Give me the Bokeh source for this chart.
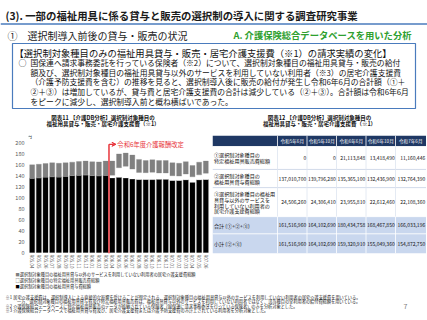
from bokeh.plotting import figure
from bokeh.layouts import column, row
from bokeh.models import Range1d, FixedTicker, Label, Arrow, VeeHead, ColumnDataSource
from bokeh.core.properties import value
from bokeh.embed import file_html
from bokeh.resources import INLINE

FONT = "Noto Sans CJK JP"

# ---------------- data ----------------
months = ["R05.04", "R05.05", "R05.06", "R05.07", "R05.08", "R05.09", "R05.10", "R05.11",
          "R05.12", "R06.01", "R06.02", "R06.03", "R06.04", "R06.05", "R06.06", "R06.07",
          "R06.08", "R06.09", "R06.10", "R06.11", "R06.12", "R07.01", "R07.02", "R07.03",
          "R07.04", "R07.05", "R07.06"]
# 百万円
rental = [135.0, 135.8, 137.0, 137.8, 137.2, 138.5, 139.8, 140.5, 141.0, 139.8, 139.5, 140.2,
          135.5, 136.5, 135.4, 133.5, 132.5, 132.5, 132.4, 133.0, 133.0, 131.0, 130.8, 132.0,
          127.5, 132.0, 132.8]
sales = [0.0, 0.0, 0.0, 0.0, 0.0, 0.0, 0.0, 0.0, 0.0, 0.0, 0.0, 0.0,
         5.0, 17.5, 21.1, 18.0, 13.0, 12.5, 13.4, 11.5, 11.5, 8.5, 8.0, 10.5,
         10.0, 9.0, 11.2]
care = [24.2, 24.5, 24.5, 25.2, 24.8, 24.5, 24.3, 24.7, 25.0, 25.0, 25.0, 25.8,
        25.5, 25.0, 24.0, 25.5, 23.5, 22.0, 22.6, 22.5, 22.5, 23.5, 23.2, 22.5,
        20.5, 23.0, 22.1]
y_ticks = [0, 20, 40, 60, 80, 100, 120, 140, 160, 180, 200]

table_cols = ["令和5年6月", "令和5年10月", "令和6年6月", "令和6年10月", "令和7年6月"]
t_sales = [0, 0, 21113848, 13418490, 11160446]
t_rental = [137010700, 139796280, 135365100, 132436900, 132764390]
t_care = [24506260, 24306410, 23955810, 22612460, 22108360]
t_total = [161516960, 164102690, 180434758, 168467850, 166033196]
t_sub = [161516960, 164102690, 159320910, 155049360, 154872750]
row_labels = [
    ["①選択制対象種目の", "特定福祉用具販売費総額"],
    ["②選択制対象種目の", "福祉用具貸与費総額"],
    ["③選択制対象種目の福祉用", "具貸与以外のサービスを", "利用していない利用者の", "居宅介護支援費総額"],
    ["合計 (①+②+③)"],
    ["小計 (②+③)"],
]

RED = "#e8363c"


def canvas(w, h, x0, x1, ytop, ybot, bt=0, bb=0):
    p = figure(width=w, height=h, x_range=Range1d(x0, x1), y_range=Range1d(ybot, ytop),
               x_axis_type=None, y_axis_type=None, output_backend="svg",
               toolbar_location=None, min_border=0, min_border_top=bt, min_border_bottom=bb,
               outline_line_color=None)
    p.background_fill_color = "white"
    p.border_fill_color = "white"
    return p


def txt(p, x, y, s, size, color="#111111", align="left", bold=False):
    p.text(x=[x], y=[y], text=[s], text_font=value(FONT), text_font_size=f"{size}px",
           text_color=color, text_align=align, text_baseline="middle",
           text_font_style="bold" if bold else "normal")


# ---------------- header ----------------
hdr = canvas(427, 128, 0, 427, 0, 128)
txt(hdr, 5, 14.5, "(3). 一部の福祉用具に係る貸与と販売の選択制の導入に関する調査研究事業", 10.4, "#1a1a1a", bold=True)
hdr.segment(x0=[0], y0=[23.5], x1=[427], y1=[23.5], line_color="#4a7bbd", line_width=1.5)
txt(hdr, 7, 34.5, "①　選択制導入前後の貸与・販売の状況", 10, "#1a1a1a")
txt(hdr, 233, 34, "A. 介護保険総合データベースを用いた分析", 9.3, "#2ea02e", bold=True)
hdr.quad(left=[12], right=[415], top=[43], bottom=[108], fill_color="white",
         line_color="#4a7bbd", line_width=1.2)
txt(hdr, 14, 52.5, "【選択制対象種目のみの福祉用具貸与・販売・居宅介護支援費（※1）の請求実績の変化】", 9.3)
txt(hdr, 18, 62, "○", 8)
para = [
    "国保連へ請求事務委託を行っている保険者（※2）について、選択制対象種目の福祉用具貸与・販売の給付",
    "額及び、選択制対象種目の福祉用具貸与以外のサービスを利用していない利用者（※3）の居宅介護支援費",
    "（介護予防支援費を含む）の推移を見ると、選択制導入後に販売の給付が発生し令和6年6月の合計額（①＋",
    "②＋③）は増加しているが、貸与費と居宅介護支援費の合計は減少している（②＋③）。合計額は令和6年6月",
    "をピークに減少し、選択制導入前と概ね横ばいであった。",
]
for i, s in enumerate(para):
    txt(hdr, 30, 62 + i * 9.7, s, 7.8)
txt(hdr, 102.5, 117, "図表11 【介護DB分析】選択制対象種目の", 5.5, align="center", bold=True)
txt(hdr, 102.5, 123.3, "福祉用具貸与・販売・居宅介護支援費（※1）", 5.5, align="center", bold=True)
txt(hdr, 319, 117, "図表12 【介護DB分析】選択制対象種目の", 5.5, align="center", bold=True)
txt(hdr, 319, 123.3, "福祉用具貸与・販売・居宅介護支援費（※1）", 5.5, align="center", bold=True)

# ---------------- chart ----------------
src = ColumnDataSource(dict(x=list(range(len(months))), rental=rental, sales=sales, care=care))
ch = figure(width=212, height=143, x_range=Range1d(-0.55, len(months) - 0.45),
            y_range=Range1d(-1.79, 212.5),
            output_backend="svg", toolbar_location=None, min_border_left=28, min_border_right=3,
            min_border_top=7, min_border_bottom=16, outline_line_color=None)
ch.border_fill_color = "white"
ch.vbar_stack(["rental", "sales", "care"], x="x", width=0.74, source=src,
              fill_color=["#000000", "#ffffff", "#808080"],
              line_color=["#000000", "#ffffff", "#808080"], line_width=0.3)
ch.xgrid.visible = False
ch.ygrid.visible = False
ch.xaxis.ticker = FixedTicker(ticks=list(range(len(months))))
ch.xaxis.major_label_overrides = {i: m for i, m in enumerate(months)}
ch.xaxis.major_label_orientation = "vertical"
ch.xaxis.major_label_text_font_size = "4.5px"
ch.xaxis.major_label_text_color = "#595959"
ch.xaxis.major_label_standoff = 1
ch.xaxis.major_tick_out = 0
ch.xaxis.major_tick_in = 0
ch.xaxis.major_tick_line_color = None
ch.xaxis.minor_tick_line_color = None
ch.xaxis.axis_line_color = None
ch.yaxis.ticker = FixedTicker(ticks=y_ticks)
ch.yaxis.major_label_text_font_size = "5.5px"
ch.yaxis.major_label_text_color = "#595959"
ch.yaxis.major_label_standoff = 4
ch.yaxis.major_tick_out = 0
ch.yaxis.major_tick_in = 0
ch.yaxis.major_tick_line_color = None
ch.yaxis.minor_tick_line_color = None
ch.yaxis.axis_line_color = None
for ax in (ch.xaxis[0], ch.yaxis[0]):
    ax.major_label_text_font = FONT

ch.segment(x0=[11.5], y0=[-1.79], x1=[11.5], y1=[196.5], line_color=RED, line_width=1.5)
ch.add_layout(Arrow(end=VeeHead(size=4, line_color=RED, fill_color=RED, line_width=1),
                    x_start=11.5, y_start=196.5, x_end=12.55, y_end=196.5,
                    line_color=RED, line_width=1.2))
ch.add_layout(Label(x=12.75, y=196.5, text="令和6年度介護報酬改定", text_font=FONT,
                    text_font_size="6.3px", text_color=RED, text_baseline="middle"))
ch.add_layout(Label(x=-2.5, y=212.0, text="百万円", text_font=FONT,
                    text_font_size="5.5px", text_color="#404040", text_baseline="middle"))

# ---------------- table ----------------
tb = canvas(215, 143, 212, 427, 135, 255, bt=7, bb=16)
col_edges = [212, 277, 306.5, 336, 365.5, 395, 425.5]
row_edges = [135, 146, 169.5, 188, 217.5, 235, 255]
NAVY = "#1f3864"
LB = "#c9d7ee"
tb.quad(left=[212], right=[425.5], top=[135], bottom=[146], fill_color=NAVY, line_color=None)
for j, h in enumerate(table_cols):
    txt(tb, (col_edges[j + 1] + col_edges[j + 2]) / 2, 140.5, h, 4.6, "white", align="center")
fills = ["white", "white", "white", LB, LB]
for r in range(5):
    tb.quad(left=[212], right=[425.5], top=[row_edges[r + 1]], bottom=[row_edges[r + 2]],
            fill_color=fills[r], line_color=None)
for r in range(2, 6):
    tb.segment(x0=[212], y0=[row_edges[r]], x1=[425.5], y1=[row_edges[r]],
               line_color="#c5d0e3" if r < 4 else "white", line_width=0.8)
for c in range(1, 6):
    tb.segment(x0=[col_edges[c]], y0=[135], x1=[col_edges[c]], y1=[146], line_color="white", line_width=0.8)
    tb.segment(x0=[col_edges[c]], y0=[146], x1=[col_edges[c]], y1=[217.5], line_color="#dde4f0", line_width=0.8)
    tb.segment(x0=[col_edges[c]], y0=[217.5], x1=[col_edges[c]], y1=[255], line_color="white", line_width=0.8)
series = [t_sales, t_rental, t_care, t_total, t_sub]
for r in range(5):
    yc = (row_edges[r + 1] + row_edges[r + 2]) / 2
    lines = row_labels[r]
    n = len(lines)
    for k, s in enumerate(lines):
        txt(tb, 213.5, yc + (k - (n - 1) / 2) * 6.0, s, 5.1)
    for j, v in enumerate(series[r]):
        txt(tb, col_edges[j + 2] - 0.8, yc, f"{v:,}", 5.0, align="right")

# ---------------- footer ----------------
ft = canvas(427, 49, 0, 427, 271, 320)
legend = [("■", "#808080", "選択制対象種目の福祉用具貸与以外のサービスを利用していない利用者の居宅介護支援費総額"),
          ("□", "#333333", "選択制対象種目の特定福祉用具販売費総額"),
          ("■", "#000000", "選択制対象種目の福祉用具貸与費総額")]
for i, (m, c, s) in enumerate(legend):
    y = 273.8 + i * 6
    txt(ft, 15, y, m, 4.2, c)
    txt(ft, 19.3, y, s, 4.2, "#222222")
notes = [
    ("※1", "居宅介護支援費は、選択制導入による直接的な影響を受けることが想定される、選択制対象種目の福祉用具貸与以外のサービスを利用していない利用者の居宅介護支援費を用いている。", 12.7),
    ("", "一方、選択制対象種目の福祉用具貸与費及び特定福祉用具販売費は、福祉用具貸与以外のサービスを利用していない利用者ではなく、該当種目の全利用者の給付費総額を用いている。", 16.5),
    ("※2", "介護保険総合データベースに特定福祉用具販売のデータが格納されている保険者（国保連に請求事務委託を行っている保険者）のみを分析対象とした。", 12.7),
    ("※3", "介護保険総合データベースで福祉用具貸与費及び、居宅介護支援費または介護予防支援費のみ計上されている利用者を分析対象とした。", 12.7),
]
for i, (k, s, x) in enumerate(notes):
    y = 296.8 + i * 4.15
    if k:
        txt(ft, 5, y, k, 4.2, "#222222")
    txt(ft, x, y, s, 4.2, "#222222")
txt(ft, 403, 305, "7", 7, "#7f7f7f")

layout = column(hdr, row(ch, tb), ft)
open("out.html", "w").write(file_html(layout, INLINE))
